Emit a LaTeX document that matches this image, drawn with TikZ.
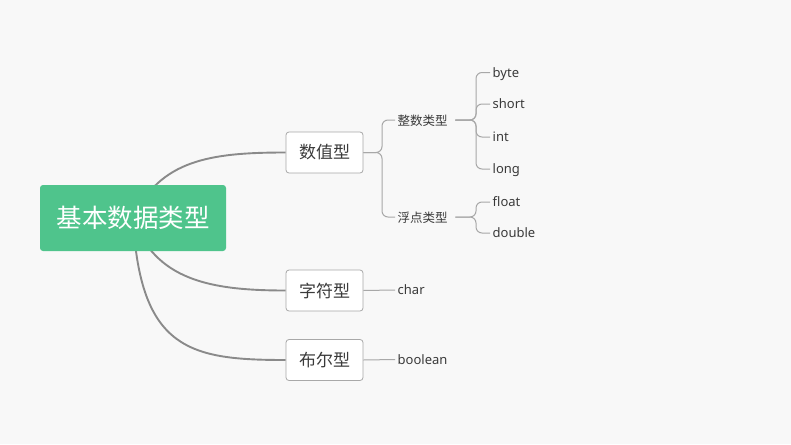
\documentclass[tikz,border=0pt]{standalone}
\usepackage{fontspec}
\setmainfont{Noto Sans}
\newfontfamily\cjk{Noto Sans CJK SC}
\usepackage{xcolor}
\usetikzlibrary{backgrounds}
\definecolor{bgc}{HTML}{F8F8F8}
\definecolor{rootc}{HTML}{4FC48C}
\definecolor{linec}{HTML}{8A8A8A}
\definecolor{twigc}{HTML}{A8A8A8}
\definecolor{textc}{HTML}{3A3A3A}
\tikzset{
  rootbox/.style={fill=rootc,rounded corners=3pt,minimum width=186pt,minimum height=66pt,
    text=white,font=\cjk\fontsize{25.5}{30}\selectfont},
  typebox/.style={draw=twigc,line width=0.8pt,fill=white,rounded corners=3pt,
    minimum width=77pt,minimum height=41pt,text=textc,font=\cjk\fontsize{17}{20}\selectfont},
  sublabel/.style={anchor=west,inner sep=2.5pt,text=textc,text height=11.5pt,text depth=0.5pt,
    font=\cjk\fontsize{12.5}{15}\selectfont},
  leaf/.style={anchor=west,inner sep=2.5pt,text=textc,text height=11pt,text depth=2pt,
    font=\fontsize{13}{15}\selectfont},
  branch/.style={draw=linec,line width=1.9pt},
  twig/.style={draw=twigc,line width=1pt,rounded corners=6pt}
}
\begin{document}
\begin{tikzpicture}[x=1pt,y=-1pt]

\useasboundingbox (0,0) rectangle (791,444);

% nodes
\node[rootbox] (root) at (133,218) {基本数据类型};
\node[typebox] (num) at (324.5,152.5) {数值型};
\node[typebox] (chr) at (324.5,290.5) {字符型};
\node[typebox] (bool) at (324.5,360) {布尔型};

\node[sublabel] (int) at (395,120) {整数类型};
\node[sublabel] (flt) at (395,217) {浮点类型};

\node[leaf] (byte) at (490,72.5) {byte};
\node[leaf] (short) at (490,104) {short};
\node[leaf] (intv) at (490,137) {int};
\node[leaf] (long) at (490,169) {long};
\node[leaf] (float) at (490,202) {float};
\node[leaf] (double) at (490,233) {double};

\node[leaf] (char) at (395,290) {char};
\node[leaf] (boolean) at (395,359.5) {boolean};

\coordinate (jnum) at (382,152.5);
\coordinate (jint) at (476,120);
\coordinate (jflt) at (476,217);

\begin{scope}[on background layer]
\fill[bgc] (0,0) rectangle (791,444);
\draw[branch] (root.center) .. controls (160,160) and (210,152.5) .. (num.west);
\draw[branch] (root.center) .. controls (155,280) and (210,290.5) .. (chr.west);
\draw[branch] (root.center) .. controls (140,350) and (190,360) .. (bool.west);
\end{scope}

% brackets
\foreach \c in {int,flt}
  \draw[twig] (num.east) -- (jnum) |- (\c.west);
\foreach \c in {byte,short,intv,long}
  \draw[twig] ([xshift=5pt]int.east) -- (jint) |- (\c.west);
\foreach \c in {float,double}
  \draw[twig] ([xshift=5pt]flt.east) -- (jflt) |- (\c.west);

\draw[twig] (chr.east) -- (char.west);
\draw[twig] (bool.east) -- (boolean.west);

\end{tikzpicture}
\end{document}
